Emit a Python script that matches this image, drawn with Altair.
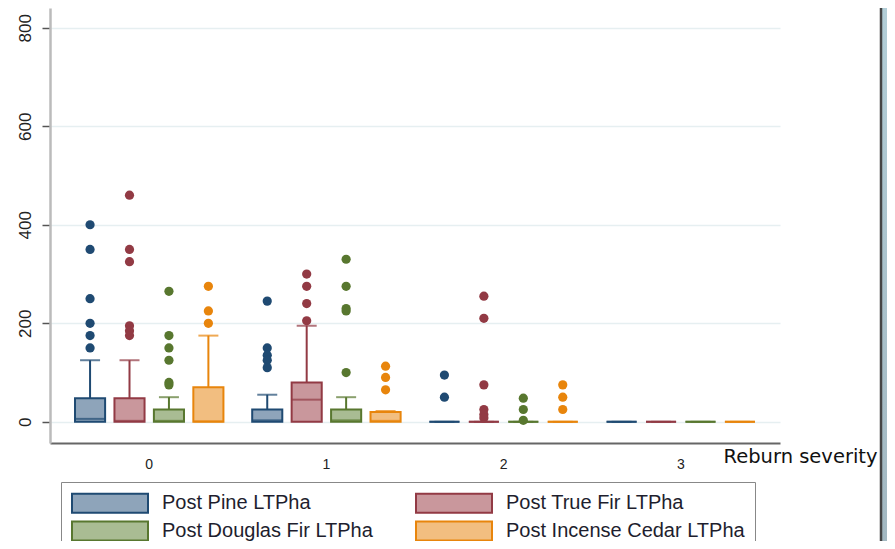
import altair as alt
import pandas as pd

severity = ["0", "1", "2", "3"]
species = ["Post Pine LTPha", "Post True Fir LTPha",
           "Post Douglas Fir LTPha", "Post Incense Cedar LTPha"]
dark_colors = ["#1f4a72", "#923a44", "#58772f", "#e8850c"]
light_colors = ["#8ea4ba", "#c9979c", "#a9bc93", "#f2be80"]

# box statistics, one list per species, one value per reburn severity 0..3
pine_q1 = [0, 0, 0, 0]
pine_med = [6, 3, 0, 0]
pine_q3 = [48, 25, 0, 0]
pine_hi = [125, 55, 0, 0]

tfir_q1 = [0, 0, 0, 0]
tfir_med = [2, 45, 0, 0]
tfir_q3 = [48, 80, 0, 0]
tfir_hi = [125, 195, 0, 0]

dfir_q1 = [0, 0, 0, 0]
dfir_med = [2, 3, 0, 0]
dfir_q3 = [25, 25, 0, 0]
dfir_hi = [50, 50, 0, 0]

cedar_q1 = [0, 0, 0, 0]
cedar_med = [1, 2, 0, 0]
cedar_q3 = [70, 20, 0, 0]
cedar_hi = [175, 22, 0, 0]

# outside values per species and severity
pine_out = [[400, 350, 250, 200, 175, 150], [245, 150, 135, 125, 110], [95, 50], []]
tfir_out = [[460, 350, 325, 195, 185, 175], [300, 275, 240, 205], [255, 210, 75, 25, 15, 8], []]
dfir_out = [[265, 175, 150, 125, 80, 75], [330, 275, 230, 225, 100], [48, 25, 3], []]
cedar_out = [[275, 225, 200], [113, 90, 65], [75, 50, 25], []]

stats = [
    (pine_q1, pine_med, pine_q3, pine_hi, pine_out),
    (tfir_q1, tfir_med, tfir_q3, tfir_hi, tfir_out),
    (dfir_q1, dfir_med, dfir_q3, dfir_hi, dfir_out),
    (cedar_q1, cedar_med, cedar_q3, cedar_hi, cedar_out),
]

box_rows, out_rows = [], []
for sp, (a, m, b, h, o) in zip(species, stats):
    for i, sev in enumerate(severity):
        box_rows.append({"sev": sev, "species": sp, "q1": a[i], "med": m[i],
                         "q3": b[i], "hi": h[i]})
        for v in o[i]:
            out_rows.append({"sev": sev, "species": sp, "v": v})
box_df = pd.DataFrame(box_rows)
out_df = pd.DataFrame(out_rows)

x_enc = alt.X("sev:N", sort=severity,
              scale=alt.Scale(paddingInner=0.1, paddingOuter=0.11),
              axis=alt.Axis(title="Reburn severity", labelAngle=0, ticks=False,
                            labelFont="Liberation Sans", labelFontSize=14,
                            labelColor="#222222", labelPadding=14,
                            domainColor="#666666", domainWidth=2,
                            titleFont="DejaVu Sans", titleFontSize=19.5,
                            titleFontWeight="normal", titleColor="#111111",
                            titleAnchor="start", titleAlign="right",
                            titleBaseline="middle", titleX=827, titleY=13))
xo_enc = alt.XOffset("species:N", sort=species,
                     scale=alt.Scale(paddingInner=0.237, paddingOuter=0.14))
y_scale = alt.Scale(domain=[-43, 840], nice=False, zero=False)
y_axis = alt.Axis(title=None, values=[0, 200, 400, 600, 800], labelAngle=-90,
                  labelAlign="center", labelBaseline="bottom",
                  labelFont="Liberation Sans", labelFontSize=17,
                  labelColor="#222222", labelPadding=8, tickSize=8,
                  tickColor="#555555", tickWidth=1.5,
                  domainColor="#bbbbbb", domainWidth=2.5,
                  grid=True, gridColor="#e6eff1", gridWidth=1.5)
# same mapping as the stroke scale, listed in another order so that the
# hidden colour legend is not merged with the visible fill/stroke legend
dark_scale = alt.Scale(domain=species[::-1], range=dark_colors[::-1])

base_box = alt.Chart(box_df)

whisker = base_box.mark_rule(strokeWidth=2).encode(
    x=x_enc, xOffset=xo_enc,
    y=alt.Y("q3:Q", scale=y_scale, axis=y_axis),
    y2="hi:Q",
    color=alt.Color("species:N", scale=dark_scale, legend=None),
)
cap = base_box.mark_tick(size=20, thickness=2).encode(
    x=x_enc, xOffset=xo_enc,
    y=alt.Y("hi:Q", scale=y_scale),
    color=alt.Color("species:N", scale=dark_scale, legend=None),
)
box = base_box.mark_bar(strokeWidth=2, opacity=1).encode(
    x=x_enc, xOffset=xo_enc,
    y=alt.Y("q1:Q", scale=y_scale),
    y2="q3:Q",
    fill=alt.Fill("species:N", scale=alt.Scale(domain=species, range=light_colors),
                  legend=alt.Legend(title=None)),
    stroke=alt.Stroke("species:N", scale=alt.Scale(domain=species, range=dark_colors),
                      legend=alt.Legend(title=None)),
)
median = base_box.mark_tick(size=30, thickness=2).encode(
    x=x_enc, xOffset=xo_enc,
    y=alt.Y("med:Q", scale=y_scale),
    color=alt.Color("species:N", scale=dark_scale, legend=None),
)
points = alt.Chart(out_df).mark_circle(size=85, opacity=1).encode(
    x=x_enc, xOffset=xo_enc,
    y=alt.Y("v:Q", scale=y_scale),
    color=alt.Color("species:N", scale=dark_scale, legend=None),
)

# slide decoration strip at the right edge
deco = alt.Chart(pd.DataFrame({"a": [0]})).mark_rect(
    stroke="#454545", strokeWidth=2.5,
    fill=alt.Gradient(gradient="linear", x1=0, y1=0, x2=0, y2=1,
                      stops=[alt.GradientStop(color="#b3cfd8", offset=0),
                             alt.GradientStop(color="#a2b7c0", offset=1)]),
).encode(x=alt.value(831), x2=alt.value(880), y=alt.value(-20), y2=alt.value(560))

chart = alt.layer(whisker, cap, box, median, points, deco).properties(
    width=730, height=435,
    autosize=alt.AutoSizeParams(type="none"),
    padding={"left": 42, "top": 0, "right": 107, "bottom": 98},
).configure_view(stroke=None).configure_legend(
    orient="none", legendX=11, legendY=474, columns=2, direction="horizontal",
    symbolType="M-3.8,-0.95H3.8V0.95H-3.8Z", symbolSize=400, symbolOffset=28,
    symbolStrokeWidth=2, symbolOpacity=1,
    labelFont="Liberation Sans", labelFontSize=20, labelColor="#1e1e2e",
    labelOffset=41, labelLimit=400, columnPadding=39, rowPadding=0,
    padding=10, strokeColor="#888888",
)

chart.save("out.html", embed_options={"renderer": "svg", "actions": False})
